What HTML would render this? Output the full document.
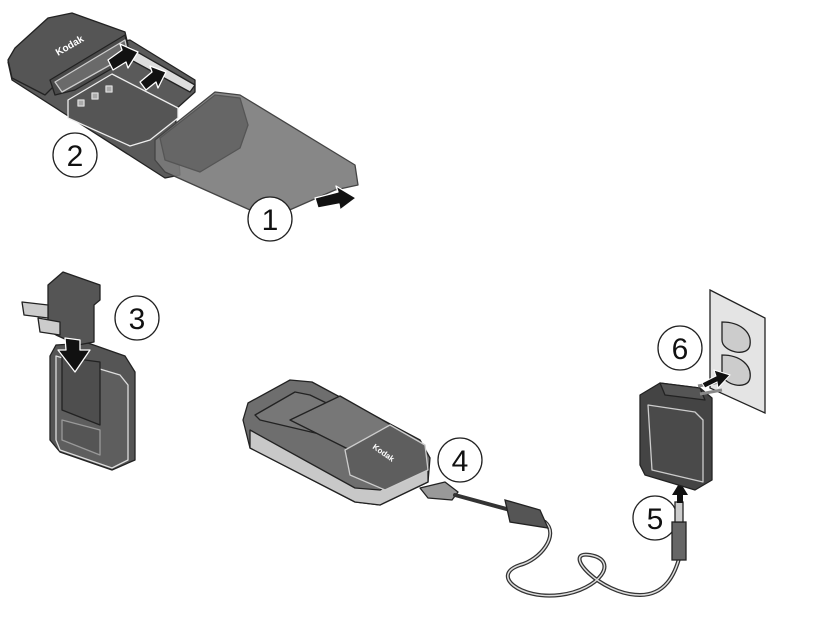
<!DOCTYPE html>
<html><head><meta charset="utf-8"><style>
html,body{margin:0;padding:0;background:#fff;}
svg{display:block}
text{font-family:"Liberation Sans",sans-serif;}
</style></head><body>
<svg width="829" height="621" viewBox="0 0 829 621" xmlns="http://www.w3.org/2000/svg">
<g stroke="#222" stroke-width="1.3" stroke-linejoin="round">
  <!-- rail/base -->
  <path d="M8,62 L130,40 L195,80 L195,92 L175,110 L180,175 L165,178 L12,80 Z" fill="#5a5a5a"/>
  <path d="M125,45 L195,85 L190,92 L122,55 Z" fill="#ddd"/>
  <!-- charger head -->
  <path d="M8,60 L15,48 L48,18 L72,13 L125,32 L128,45 L60,80 L45,95 L12,78 Z" fill="#555"/>
  <path d="M50,80 L125,35 L128,50 L135,55 L75,90 L55,95 Z" fill="#4a4a4a"/>
  <path d="M55,82 L125,40 L128,55 L62,92 Z" fill="#6a6a6a" stroke="#ccc"/>
  <text x="58" y="56" fill="#fff" font-size="10" font-weight="bold" transform="rotate(-30 58 56)" stroke="none">Kodak</text>
  <!-- battery -->
  <path d="M68,100 L112,74 L178,108 L178,118 L150,140 L130,146 L68,118 Z" fill="#555" stroke="#eee"/>
  <rect x="78" y="100" width="6" height="6" fill="#aaa" stroke="#ddd"/>
  <rect x="92" y="93" width="6" height="6" fill="#aaa" stroke="#ddd"/>
  <rect x="106" y="86" width="6" height="6" fill="#aaa" stroke="#ddd"/>
  <!-- cover -->
  <path d="M155,140 L215,92 L240,95 L355,165 L358,185 L335,190 L285,212 L250,210 L165,172 L155,160 Z" fill="#7a7a7a" fill-opacity="0.9" stroke="#444"/>
  <path d="M160,138 L215,95 L240,98 L248,125 L240,148 L200,172 L165,160 Z" fill="#666" stroke="#555"/>
  <!-- arrows -->
  <path d="M108,60 L122,50 L120,44 L138,52 L128,68 L126,62 L113,70 Z" fill="#111" stroke="#fff"/>
  <path d="M140,82 L152,72 L150,66 L166,72 L158,88 L156,82 L146,90 Z" fill="#111" stroke="#fff"/>
  <path d="M315,198 L338,192 L336,186 L356,198 L340,210 L339,204 L318,208 Z" fill="#111" stroke="#fff"/>
</g>
<g fill="#fff" stroke="#222" stroke-width="1.3">
  <circle cx="75" cy="155" r="22"/><circle cx="270" cy="219" r="22"/>
  <circle cx="137" cy="318" r="22"/><circle cx="460" cy="460" r="22"/>
  <circle cx="655" cy="518" r="22"/><circle cx="680" cy="348" r="22"/>
</g>
<g font-size="30" fill="#111" text-anchor="middle">
  <text x="75" y="166">2</text><text x="270" y="230">1</text>
  <text x="137" y="329">3</text><text x="460" y="471">4</text>
  <text x="655" y="529">5</text><text x="680" y="359">6</text>
</g>
<!-- LEFT adapter -->
<g stroke="#222" stroke-width="1.3" stroke-linejoin="round">
  <path d="M50,356 L56,345 L88,343 L125,356 L135,372 L135,460 L112,470 L60,452 L50,440 Z" fill="#555"/>
  <path d="M56,356 L120,375 L128,385 L128,460 L112,468 L60,450 L56,440 Z" fill="#5e5e5e" stroke="#ddd"/>
  <path d="M62,357 L100,362 L100,425 L62,410 Z" fill="#4e4e4e"/>
  <path d="M62,420 L100,430 L100,455 L62,440 Z" fill="#555" stroke="#999"/>
  <path d="M48,285 L63,272 L100,285 L100,300 L94,305 L94,342 L78,345 L56,335 L48,330 Z" fill="#555"/>
  <path d="M22,302 L48,305 L48,318 L24,315 Z" fill="#ccc"/>
  <path d="M38,318 L60,322 L60,335 L40,332 Z" fill="#ccc"/>
  <path d="M65,338 L80,340 L80,350 L90,350 L75,372 L58,350 L66,350 Z" fill="#111" stroke="#fff"/>
</g>
<!-- BOTTOM charger -->
<g stroke="#222" stroke-width="1.3" stroke-linejoin="round">
  <path d="M243,420 L248,403 L290,380 L312,382 L420,440 L430,458 L428,482 L380,505 L355,502 L250,448 Z" fill="#6e6e6e"/>
  <path d="M250,430 L355,488 L380,490 L428,468 L428,482 L380,505 L355,502 L250,448 Z" fill="#c8c8c8"/>
  <path d="M255,415 L295,392 L310,395 L345,412 L345,440 L260,420 Z" fill="#777"/>
  <path d="M290,420 L340,396 L400,430 L360,455 Z" fill="#777"/>
  <path d="M345,450 L390,425 L425,445 L428,470 L385,490 L350,475 Z" fill="#5e5e5e" stroke="#ccc"/>
  <text x="372" y="448" fill="#fff" font-size="8" font-weight="bold" transform="rotate(35 372 448)" stroke="none">Kodak</text>
  <path d="M420,488 L445,482 L458,492 L452,500 L428,498 Z" fill="#999"/>
</g>
<!-- cable -->
<g fill="none" stroke="#333" stroke-width="4" stroke-linecap="round">
  <path d="M455,495 L510,510"/>
  <path d="M545,522 C560,535 540,560 520,565 C490,575 520,600 560,595 C600,590 620,560 590,555 C560,550 600,595 640,595 C665,595 675,575 680,555"/>
</g>
<g fill="none" stroke="#ddd" stroke-width="1.5">
  <path d="M545,522 C560,535 540,560 520,565 C490,575 520,600 560,595 C600,590 620,560 590,555 C560,550 600,595 640,595 C665,595 675,575 680,555"/>
</g>
<g stroke="#222" stroke-width="1.3">
  <path d="M505,500 L540,510 L548,528 L510,522 Z" fill="#555"/>
  <rect x="672" y="522" width="14" height="38" fill="#666"/>
  <rect x="675" y="502" width="8" height="20" fill="#ccc"/>
</g>
<path d="M672,495 L680,482 L688,495 L683,495 L683,503 L677,503 L677,495 Z" fill="#111"/>
<!-- wall plate -->
<g stroke="#222" stroke-width="1.3">
  <path d="M710,290 L765,318 L765,413 L710,388 Z" fill="#e4e4e4"/>
  <path d="M722,322 C740,322 752,332 750,345 C748,358 722,352 722,340 Z" fill="#ccc"/>
  <path d="M722,355 C740,355 752,365 750,378 C748,391 722,385 722,373 Z" fill="#ccc"/>
</g>
<!-- wall adapter -->
<g stroke="#222" stroke-width="1.3" stroke-linejoin="round">
  <path d="M640,395 L660,383 L700,388 L712,398 L712,480 L695,490 L645,475 L640,465 Z" fill="#444"/>
  <path d="M648,405 L695,412 L703,420 L703,482 L652,470 Z" fill="#4a4a4a" stroke="#ccc"/>
  <path d="M660,383 L700,388 L705,400 L665,395 Z" fill="#555"/>
  <path d="M698,386 L720,382 M700,394 L722,390" stroke="#888" stroke-width="3"/>
</g>
<path d="M702,383 L716,376 L714,370 L730,375 L718,388 L717,382 L705,388 Z" fill="#111" stroke="#fff"/>
</svg>
</body></html>
